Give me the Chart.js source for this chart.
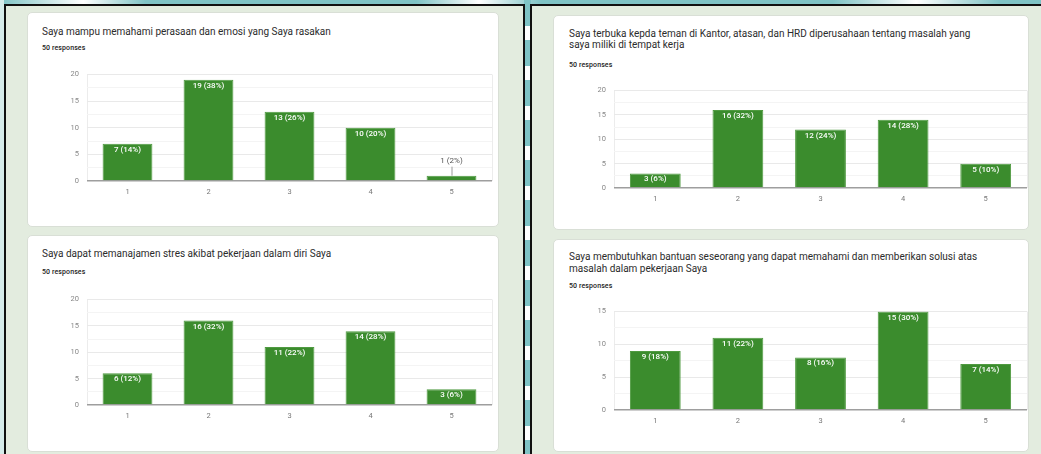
<!DOCTYPE html>
<html>
<head>
<meta charset="utf-8">
<script src="https://cdn.jsdelivr.net/npm/chart.js@4.4.1/dist/chart.umd.min.js"></script>
<style>
  html, body { margin:0; padding:0; width:1041px; height:454px; overflow:hidden; }
  body { position:relative; background:#7fc3c5; font-family: Roboto, "Liberation Sans", Arial, sans-serif; }
  .gap { position:absolute; left:524px; top:0; width:7px; height:454px;
         background: repeating-linear-gradient(180deg, #7fc3c5 0px, #7fc3c5 26px, #ffffff 26px, #ffffff 40px); }
  .topstrip { position:absolute; left:0; top:0; width:1041px; height:5px;
         background: linear-gradient(90deg, #7fc3c5 0%, #ffffff 8%, #7fc3c5 14%, #7fc3c5 40%, #ffffff 46%, #7fc3c5 52%, #7fc3c5 80%, #ffffff 88%, #7fc3c5 96%); }
  .leftstrip { position:absolute; left:0; top:0; width:4px; height:454px; background:#d6ecea; }
  .panel { position:absolute; background:#e3ecdf; border:2px solid #111; box-sizing:border-box; }
  .card { position:absolute; background:#fff; border:1px solid #d9dfd6; border-radius:5px; box-sizing:border-box; }
  .title { position:absolute; font-size:10px; color:#2b2b2b; line-height:11px; white-space:nowrap; }
  .resp { position:absolute; font-size:7px; color:#222; line-height:8px; font-weight:500; white-space:nowrap; letter-spacing:0.1px; }
  .cwrap { position:absolute; }
</style>
</head>
<body>
<div class="topstrip"></div>
<div class="leftstrip"></div>
<div class="gap"></div>
<div class="panel" style="left:4px; top:4px; width:521px; height:470px;"></div>
<div class="panel" style="left:530px; top:4px; width:530px; height:470px; border-right:none;"></div>

<div class="card" style="left:27px; top:12px; width:472px; height:215px;"></div>
<div class="card" style="left:27px; top:235px; width:472px; height:217px;"></div>
<div class="card" style="left:553px; top:15px; width:476px; height:215px;"></div>
<div class="card" style="left:553px; top:239px; width:476px; height:213px;"></div>

<div id="tA" class="title" style="left:42px; top:26px;"></div>
<div class="resp" style="left:42px; top:44px;">50 responses</div>

<div id="tB" class="title" style="left:42px; top:248px;"></div>
<div class="resp" style="left:42px; top:268px;">50 responses</div>

<div id="tC" class="title" style="left:569px; top:28px;"></div>
<div class="resp" style="left:569px; top:61px;">50 responses</div>

<div id="tD" class="title" style="left:569px; top:251px; line-height:12px;"></div>
<div class="resp" style="left:569px; top:282px;">50 responses</div>

<div id="wA" class="cwrap"><canvas id="cA"></canvas></div>
<div id="wB" class="cwrap"><canvas id="cB"></canvas></div>
<div id="wC" class="cwrap"><canvas id="cC"></canvas></div>
<div id="wD" class="cwrap"><canvas id="cD"></canvas></div>

<script>
// ---- data ----
const categories = ['1', '2', '3', '4', '5'];
const valuesA = [7, 19, 13, 10, 1];
const valuesB = [6, 16, 11, 14, 3];
const valuesC = [3, 16, 12, 14, 5];
const valuesD = [9, 11, 8, 15, 7];
const yMaxA = 20, yMaxB = 20, yMaxC = 20, yMaxD = 15;
const titleA = ['Saya mampu memahami perasaan dan emosi yang Saya rasakan'];
const titleB = ['Saya dapat memanajamen stres akibat pekerjaan dalam diri Saya'];
const titleC = ['Saya terbuka kepda teman di Kantor, atasan, dan HRD diperusahaan tentang masalah yang', 'saya miliki di tempat kerja'];
const titleD = ['Saya membutuhkan bantuan seseorang yang dapat memahami dan memberikan solusi atas', 'masalah dalam pekerjaan Saya'];

document.getElementById('tA').innerHTML = titleA.join('<br>');
document.getElementById('tB').innerHTML = titleB.join('<br>');
document.getElementById('tC').innerHTML = titleC.join('<br>');
document.getElementById('tD').innerHTML = titleD.join('<br>');

const BAR = '#3b8c2d';
const FONT = 'Roboto, "Liberation Sans", Arial, sans-serif';

const labelPlugin = {
  id: 'barLabels',
  afterDatasetsDraw(chart) {
    const ctx = chart.ctx;
    const ds = chart.data.datasets[0];
    const vals = ds.data;
    const total = vals.reduce((a, b) => a + b, 0);
    const meta = chart.getDatasetMeta(0);
    ctx.save();
    ctx.textAlign = 'center';
    ctx.textBaseline = 'middle';
    meta.data.forEach((bar, i) => {
      const v = vals[i];
      const txt = v + ' (' + Math.round(v / total * 100) + '%)';
      const h = bar.base - bar.y;
      if (h >= 13) {
        ctx.fillStyle = '#ffffff';
        ctx.font = '500 8px ' + FONT;
        ctx.fillText(txt, bar.x, bar.y + 6);
      } else {
        ctx.strokeStyle = '#9a9a9a';
        ctx.lineWidth = 1;
        ctx.beginPath();
        ctx.moveTo(bar.x + 0.5, bar.y);
        ctx.lineTo(bar.x + 0.5, bar.y - 9);
        ctx.stroke();
        ctx.fillStyle = '#555';
        ctx.font = '8px ' + FONT;
        ctx.fillText(txt, bar.x, bar.y - 15);
      }
    });
    ctx.restore();
  }
};

function makeChart(wrapId, canvasId, values, yMax, box) {
  const padL = 40, padT = 10, padR = 8, padB = 22;
  const w = (box.x1 - box.x0) + padL + padR;
  const h = (box.y1 - box.y0) + padT + padB;
  const wrap = document.getElementById(wrapId);
  wrap.style.left = (box.x0 - padL) + 'px';
  wrap.style.top = (box.y0 - padT) + 'px';
  wrap.style.width = w + 'px';
  wrap.style.height = h + 'px';
  return new Chart(document.getElementById(canvasId), {
    type: 'bar',
    data: {
      labels: categories,
      datasets: [{
        data: values,
        backgroundColor: BAR,
        borderColor: '#4f9a40',
        borderWidth: 1,
        categoryPercentage: 1,
        barPercentage: 0.615
      }]
    },
    options: {
      responsive: true,
      maintainAspectRatio: false,
      animation: false,
      events: [],
      layout: { padding: { left: 0, top: padT, right: padR, bottom: 0 } },
      plugins: { legend: { display: false }, tooltip: { enabled: false } },
      scales: {
        x: {
          afterFit(s) { s.height = padB; },
          grid: {
            drawTicks: false,
            color: (c) => (c.index === 0 || c.type === 'scale') ? '#ececec' : 'rgba(0,0,0,0)'
          },
          border: { display: false },
          ticks: { color: '#777', font: { size: 7.5, family: FONT }, padding: 7, maxRotation: 0 }
        },
        y: {
          min: 0, max: yMax,
          afterFit(s) { s.width = padL; },
          grid: {
            drawTicks: false,
            color: (c) => {
              const v = c.tick ? c.tick.value : 1;
              if (v === 0) return '#9e9e9e';
              return (v % 5 === 0) ? '#e9e9e9' : '#f4f4f4';
            },
            lineWidth: (c) => (c.tick && c.tick.value === 0) ? 1.5 : 1
          },
          border: { display: false },
          ticks: {
            stepSize: 2.5,
            autoSkip: false,
            color: '#888',
            font: { size: 7.5, family: FONT },
            padding: 8,
            callback: (v) => (v % 5 === 0 ? String(v) : '')
          }
        }
      }
    },
    plugins: [labelPlugin]
  });
}

makeChart('wA', 'cA', valuesA, yMaxA, { x0: 87, x1: 492, y0: 72, y1: 181 });
makeChart('wB', 'cB', valuesB, yMaxB, { x0: 87, x1: 492, y0: 297, y1: 405 });
makeChart('wC', 'cC', valuesC, yMaxC, { x0: 614, x1: 1027, y0: 88, y1: 188 });
makeChart('wD', 'cD', valuesD, yMaxD, { x0: 614, x1: 1027, y0: 309, y1: 410 });
</script>
</body>
</html>
